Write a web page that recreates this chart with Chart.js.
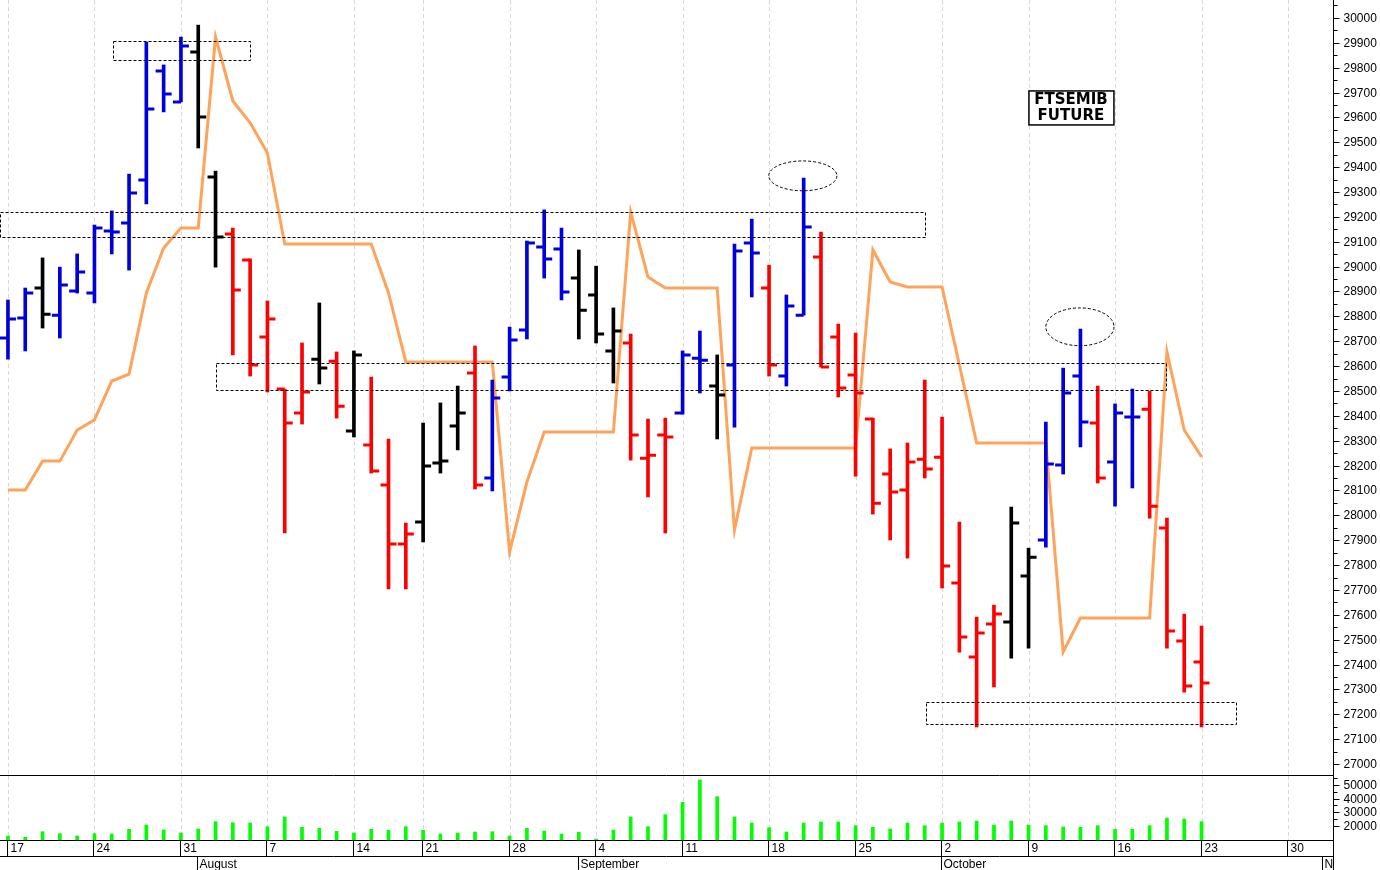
<!DOCTYPE html>
<html><head><meta charset="utf-8">
<script src="https://cdn.jsdelivr.net/npm/chart.js@4.4.1/dist/chart.umd.min.js"></script>
<style>
html,body{margin:0;padding:0;background:#fff;overflow:hidden}
#p{position:absolute;left:0;top:0}
#v{position:absolute;left:0;top:776px}
</style></head><body>
<canvas id="p" width="1380" height="776"></canvas>
<canvas id="v" width="1380" height="94"></canvas>
<script>
// ---- data ----
const highs=[28866,28914,29035,28998,29051,29167,29224,29372,29903,29811,29923,29971,29384,29155,29031,28862,28508,28693,28854,28657,28661,28556,28307,27969,28371,28452,28520,28681,28544,28757,29103,29228,29155,29067,29002,28834,28729,28387,28391,28661,28741,28645,29091,29191,29006,28886,29356,29139,28769,28733,28391,28267,28291,28544,28395,27973,27591,27639,28033,27868,28375,28592,28749,28520,28448,28508,28500,27989,27603,27555];
const lows=[28628,28661,28753,28713,28894,28854,29051,28986,29252,29622,29662,29477,28998,28645,28560,28496,27929,28367,28528,28391,28315,28170,27704,27704,27893,28170,28263,28106,28098,28500,28709,28954,28866,28709,28693,28532,28222,28074,27929,28407,28492,28307,28355,28878,28560,28520,28805,28596,28476,28158,28005,27901,27828,28150,27708,27450,27149,27310,27426,27466,27872,28166,28275,28130,28037,28110,27989,27466,27289,27149];
const opens=[28713,28793,28914,28805,28902,28894,29143,29175,29348,29787,29662,29863,29360,29131,29027,28717,28508,28411,28628,28620,28339,28283,28122,27885,27973,28210,28359,28572,28150,28556,28745,29079,29071,28954,28886,28661,28693,28230,28323,28411,28632,28520,28604,29095,28914,28560,28805,29039,28717,28564,28387,28166,28102,28226,28234,27728,27430,27563,27571,27756,27901,28202,28560,28371,28214,28395,28427,27949,27495,27410];
const closes=[28789,28894,28809,28926,28978,29155,29139,29296,29634,29694,29887,29602,29119,28906,28604,28789,28371,28496,28592,28439,28645,28178,27885,27925,28198,28218,28411,28122,28472,28705,29095,29031,28898,28825,28729,28741,28323,28242,28315,28645,28624,28484,29063,29055,28604,28842,29159,28596,28512,28492,28049,28094,28214,28186,27796,27511,27527,27603,27969,27832,28206,28492,28375,28150,28411,28395,28037,27535,27314,27326];
const barColors="BBKBBBBBBBBKKRRRRRKRKRRRKKKRBBBBBKKKRRRBBKBBRBBRRRRRRRRRRRKKBBBRBBRRRR";
const orange=[28102,28102,28218,28218,28343,28384,28540,28568,28894,29075,29155,29155,29924,29666,29578,29457,29091,29091,29091,29091,29091,29091,28894,28617,28617,28617,28617,28617,28617,27853,28134,28335,28335,28335,28335,28335,29220,28958,28914,28914,28914,28914,27941,28271,28271,28271,28271,28271,28271,28271,29067,28938,28918,28918,28918,28605,28291,28291,28291,28291,28291,27451,27587,27587,27587,27587,27587,28657,28343,28235];
const volume=[12680,11700,15850,14390,12680,14390,14140,17560,20730,17070,14880,17800,23170,22440,22200,19510,26590,19020,18290,16100,14880,17560,16830,19510,16830,14140,14880,15610,15850,12680,18290,16340,14140,15360,10480,17070,26590,19510,28300,37320,53670,41470,26590,22200,18780,15610,22200,22930,22930,20240,19020,17800,22200,20240,22200,22930,23660,20730,23660,20730,20240,19270,19020,20240,17560,17560,20240,25860,25120,23170];
const priceTicks=[27000,27100,27200,27300,27400,27500,27600,27700,27800,27900,28000,28100,28200,28300,28400,28500,28600,28700,28800,28900,29000,29100,29200,29300,29400,29500,29600,29700,29800,29900,30000];
const volTicks=[20000,30000,40000,50000];
const weekDays=[0,5,10,15,20,24,29,34,39,44,49,54,59,64,69,74];
const weekLabels=["17","24","31","7","14","21","28","4","11","18","25","2","9","16","23","30"];
const monthDays=[11,33,54,76];
const monthLabels=["August","September","October","N"];
const boxes=[[6.07,14.0,29908,29831],[-0.46,53.0,29220,29119],[12.0,66.9,28613,28504],[53.06,70.98,27250,27161]];
const ellipses=[[45.95,29365,1.97,60],[61.97,28758,1.97,76]];
const titleLines=["FTSEMIB","FUTURE"]; const titleAt=[61.45,29638];

const XMIN=-0.46, XMAX=76.6;
const colMap={B:'#0000dd',R:'#ff0000',K:'#000000'};
const idx=highs.map((_,i)=>i);

const fitY=ax=>{ax.width=47;};
const vgrid={id:'vgrid',beforeDatasetsDraw(c){const {ctx,chartArea:a,scales:{x}}=c;ctx.save();ctx.strokeStyle='#d8d8d8';ctx.setLineDash([4,3]);ctx.lineWidth=1;
 weekDays.forEach(d=>{const px=Math.round(x.getPixelForValue(d))+0.5;ctx.beginPath();ctx.moveTo(px,a.top);ctx.lineTo(px,a.bottom);ctx.stroke();});ctx.restore();}};
function yAxisDraw(c,ticks,minorStep){const {ctx,chartArea:a,scales:{y}}=c;ctx.save();ctx.strokeStyle='#000';ctx.fillStyle='#000';ctx.lineWidth=1;
 const xr=Math.round(a.right)+0.5;ctx.beginPath();ctx.moveTo(xr,0);ctx.lineTo(xr,c.height);ctx.stroke();
 ctx.font='12px "Liberation Sans"';ctx.textAlign='left';ctx.textBaseline='middle';
 ticks.forEach(t=>{const py=Math.round(y.getPixelForValue(t))+0.5;ctx.beginPath();ctx.moveTo(xr,py);ctx.lineTo(xr+6,py);ctx.stroke();ctx.fillText(String(t),xr+10,py);
  const pm=Math.round(y.getPixelForValue(t+minorStep))+0.5;if(pm>a.top){ctx.beginPath();ctx.moveTo(xr,pm);ctx.lineTo(xr+4,pm);ctx.stroke();}});
 ctx.restore();}

const ocPlugin={id:'oc',afterDatasetsDraw(c){const {ctx,scales:{x,y}}=c;ctx.save();ctx.lineWidth=3;
 idx.forEach(i=>{const px=x.getPixelForValue(i);ctx.strokeStyle=colMap[barColors[i]];
  let yo=y.getPixelForValue(opens[i]),yc=y.getPixelForValue(closes[i]);
  ctx.beginPath();ctx.moveTo(px-8,yo);ctx.lineTo(px,yo);ctx.moveTo(px,yc);ctx.lineTo(px+8,yc);ctx.stroke();});
 ctx.lineWidth=1;ctx.strokeStyle='#000';ctx.setLineDash([3,2]);
 boxes.forEach(b=>{const x1=x.getPixelForValue(b[0]),x2=x.getPixelForValue(b[1]),y1=y.getPixelForValue(b[2]),y2=y.getPixelForValue(b[3]);ctx.strokeRect(Math.round(x1)+0.5,Math.round(y1)+0.5,Math.round(x2-x1),Math.round(y2-y1));});
 ellipses.forEach(e=>{const cx=x.getPixelForValue(e[0]),cy=y.getPixelForValue(e[1]);const rx=x.getPixelForValue(e[0]+e[2])-cx,ry=y.getPixelForValue(e[1]-e[3])-cy;ctx.beginPath();ctx.ellipse(cx,cy,rx,ry,0,0,Math.PI*2);ctx.stroke();});
 ctx.setLineDash([]);
 const tx=x.getPixelForValue(titleAt[0]),ty=y.getPixelForValue(titleAt[1]);
 ctx.fillStyle='#fff';ctx.fillRect(tx-42,ty-17,85,34);ctx.lineWidth=1.5;ctx.strokeRect(tx-42,ty-17,85,34);
 ctx.fillStyle='#000';ctx.font='bold 15px "DejaVu Sans"';ctx.textAlign='center';ctx.textBaseline='middle';
 ctx.fillText(titleLines[0],tx,ty-8);ctx.fillText(titleLines[1],tx,ty+8);
 ctx.restore();},
 afterDraw(c){yAxisDraw(c,priceTicks,50);const {ctx,chartArea:a}=c;ctx.save();ctx.strokeStyle='#000';ctx.beginPath();ctx.moveTo(0,c.height-0.5);ctx.lineTo(a.right,c.height-0.5);ctx.stroke();ctx.restore();}};

new Chart(document.getElementById('p'),{
 data:{datasets:[
  {type:'line',data:idx.map(i=>({x:i,y:orange[i]})),borderColor:'#ffa35a',borderWidth:3,pointRadius:0,tension:0,order:2},
  {type:'bar',data:idx.map(i=>({x:i,y:[lows[i],highs[i]]})),backgroundColor:idx.map(i=>colMap[barColors[i]]),barThickness:3,order:1}
 ]},
 options:{responsive:false,animation:false,events:[],layout:{padding:0},
  plugins:{legend:{display:false},tooltip:{enabled:false}},
  scales:{
   x:{type:'linear',min:XMIN,max:XMAX,display:false,offset:false},
   y:{position:'right',min:26952,max:30072,afterFit:fitY,ticks:{display:false},grid:{display:false},border:{display:false}}
  }},
 plugins:[vgrid,ocPlugin]
});

const axisPlugin={id:'ax',afterDraw(c){yAxisDraw(c,volTicks,5000);const {ctx,chartArea:a,scales:{x}}=c;ctx.save();ctx.strokeStyle='#000';ctx.lineWidth=1;ctx.fillStyle='#000';
 const r1=Math.round(a.bottom),r2=r1+16,r3=94;
 ctx.beginPath();ctx.moveTo(0,r1+0.5);ctx.lineTo(a.right+0.5,r1+0.5);ctx.moveTo(0,r2+0.5);ctx.lineTo(a.right,r2+0.5);ctx.stroke();
 ctx.font='12px "Liberation Sans"';ctx.textBaseline='middle';ctx.textAlign='left';
 weekDays.forEach((d,i)=>{const px=Math.round(x.getPixelForValue(d))-0.5;ctx.beginPath();ctx.moveTo(px,r1);ctx.lineTo(px,r2);ctx.stroke();ctx.fillText(weekLabels[i],px+3,r1+9);});
 monthDays.forEach((d,i)=>{const px=Math.round(x.getPixelForValue(d))-0.5;ctx.beginPath();ctx.moveTo(px,r2);ctx.lineTo(px,r3);ctx.stroke();ctx.fillText(monthLabels[i],px+2,r2+9);});
 ctx.restore();}};

new Chart(document.getElementById('v'),{
 type:'bar',
 data:{datasets:[{data:idx.map(i=>({x:i,y:volume[i]})),backgroundColor:'#00ff00',barThickness:3,base:9756}]},
 options:{responsive:false,animation:false,events:[],layout:{padding:{bottom:30}},
  plugins:{legend:{display:false},tooltip:{enabled:false}},
  scales:{
   x:{type:'linear',min:XMIN,max:XMAX,display:false,offset:false},
   y:{position:'right',min:9756,max:56585,afterFit:fitY,ticks:{display:false},grid:{display:false},border:{display:false}}
  }},
 plugins:[vgrid,axisPlugin]
});
</script></body></html>
